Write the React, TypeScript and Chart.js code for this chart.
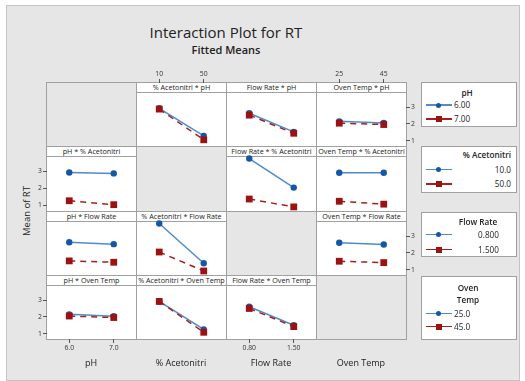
import React, { useEffect, useRef } from 'react';
import { Chart, registerables } from 'chart.js';

Chart.register(...registerables);

// ---------------- data ----------------
const factorNames = ['pH', '% Acetonitri', 'Flow Rate', 'Oven Temp'];
const pHLevels = [6.0, 7.0];
const acetoLevels = [10, 50];
const flowLevels = [0.8, 1.5];
const ovenLevels = [25, 45];
const pHTickLabels = ['6.0', '7.0'];
const acetoTickLabels = ['10', '50'];
const flowTickLabels = ['0.80', '1.50'];
const ovenTickLabels = ['25', '45'];
const pHLegendLabels = ['6.00', '7.00'];
const acetoLegendLabels = ['10.0', '50.0'];
const flowLegendLabels = ['0.800', '1.500'];
const ovenLegendLabels = ['25.0', '45.0'];
const yTickValues = [1, 2, 3];
const yTickLabels = ['1', '2', '3'];

// fitted means for each pair of factors: [level of first][level of second]
const meansPhAceto = [[2.93, 1.28], [2.88, 1.05]];
const meansPhFlow = [[2.63, 1.52], [2.52, 1.44]];
const meansPhOven = [[2.15, 2.05], [2.04, 1.96]];
const meansAcetoFlow = [[3.75, 2.05], [1.38, 0.92]];
const meansAcetoOven = [[2.92, 2.92], [1.25, 1.08]];
const meansFlowOven = [[2.6, 2.5], [1.5, 1.42]];

const factorLevels = [pHLevels, acetoLevels, flowLevels, ovenLevels];
const factorTickLabels = [pHTickLabels, acetoTickLabels, flowTickLabels, ovenTickLabels];
const factorLegendLabels = [pHLegendLabels, acetoLegendLabels, flowLegendLabels, ovenLegendLabels];
const pairTables: Record<string, number[][]> = {
  '01': meansPhAceto,
  '02': meansPhFlow,
  '03': meansPhOven,
  '12': meansAcetoFlow,
  '13': meansAcetoOven,
  '23': meansFlowOven,
};
function fittedMean(i: number, li: number, j: number, lj: number): number {
  return i < j ? pairTables[`${i}${j}`][li][lj] : pairTables[`${j}${i}`][lj][li];
}

// ---------------- style / layout ----------------
const FONT = '"Open Sans", "Noto Sans", sans-serif';
const BG = '#e6e6e6';
const GRID_LINE = '#a0a0a0';
const BLUE_LINE = '#4f8bcc';
const BLUE_MARK = '#1358a8';
const RED_LINE = '#a3201f';
const RED_MARK = '#9c1212';
const COL_X = [46, 136, 226, 316, 406];
const ROW_Y = [82, 146, 211, 275, 339];
const HDR = 10;
const M = 24;
const Y_MIN = 0.68;
const Y_MAX = 3.9;

function Panel({ r, c }: { r: number; c: number }) {
  const ref = useRef<HTMLCanvasElement>(null);
  const x0 = COL_X[c] + 1;
  const x1 = COL_X[c + 1];
  const y0 = ROW_Y[r] + 1;
  const y1 = ROW_Y[r + 1];
  const w = x1 - x0;
  const h = y1 - y0;
  useEffect(() => {
    const levels = factorLevels[c];
    const tickLabels = factorTickLabels[c];
    const lo = levels[0];
    const hi = levels[1];
    const d = hi - lo;
    const dataH = ROW_Y[r + 1] - (ROW_Y[r] + HDR);
    const yMaxExt = Y_MAX + ((h - dataH) / dataH) * (Y_MAX - Y_MIN);
    const showLeft = c === 0 && r % 2 === 1;
    const showRight = c === 3 && r % 2 === 0;
    const showTop = r === 0 && c % 2 === 1;
    const showBottom = r === 3 && c % 2 === 0;
    const showX = showTop || showBottom;
    const showY = showLeft || showRight;
    const tickFont = { family: FONT, size: 6.8 };
    const datasets = [0, 1].map((k) => ({
      data: levels.map((xv, lj) => ({ x: xv, y: fittedMean(r, k, c, lj) })),
      borderColor: k === 0 ? BLUE_LINE : RED_LINE,
      borderWidth: 1.5,
      borderDash: k === 0 ? [] : [6, 5],
      pointStyle: k === 0 ? 'circle' : 'rect',
      pointRadius: k === 0 ? 3.2 : 4.8,
      pointBackgroundColor: k === 0 ? BLUE_MARK : RED_MARK,
      pointBorderColor: k === 0 ? BLUE_MARK : RED_MARK,
      pointBorderWidth: 0,
      tension: 0,
      order: k === 0 ? 1 : 0,
    }));
    const chart = new Chart(ref.current as HTMLCanvasElement, {
      type: 'line',
      data: { datasets: datasets as any },
      options: {
        animation: false,
        responsive: false,
        maintainAspectRatio: false,
        devicePixelRatio: 1,
        events: [],
        layout: {
          padding: {
            left: showLeft ? 0 : M,
            right: showRight ? 0 : M,
            top: showTop ? 0 : M,
            bottom: showBottom ? 0 : M,
          },
        },
        plugins: { legend: { display: false }, tooltip: { enabled: false }, title: { display: false } },
        scales: {
          x: {
            type: 'linear',
            position: showTop ? 'top' : 'bottom',
            display: showX,
            min: lo - 0.5 * d,
            max: hi + 0.5 * d,
            afterFit: (s: any) => {
              if (showX) s.height = M;
            },
            afterBuildTicks: (s: any) => {
              s.ticks = levels.map((v) => ({ value: v }));
            },
            ticks: {
              autoSkip: false,
              maxRotation: 0,
              padding: 1,
              font: tickFont,
              color: '#333',
              callback: (v: any) => {
                const i = levels.indexOf(Number(v));
                return i >= 0 ? tickLabels[i] : '';
              },
            },
            grid: { display: true, drawOnChartArea: false, drawTicks: true, tickLength: 4, color: '#555' },
            border: { display: false },
          },
          y: {
            type: 'linear',
            position: showRight ? 'right' : 'left',
            display: showY,
            min: Y_MIN,
            max: yMaxExt,
            afterFit: (s: any) => {
              if (showY) s.width = M;
            },
            afterBuildTicks: (s: any) => {
              s.ticks = yTickValues.map((v) => ({ value: v }));
            },
            ticks: {
              autoSkip: false,
              padding: 1,
              font: tickFont,
              color: '#333',
              callback: (v: any) => {
                const i = yTickValues.indexOf(Number(v));
                return i >= 0 ? yTickLabels[i] : '';
              },
            },
            grid: { display: true, drawOnChartArea: false, drawTicks: true, tickLength: 4, color: '#555' },
            border: { display: false },
          },
        },
      } as any,
    });
    return () => chart.destroy();
  }, []);
  return (
    <canvas
      ref={ref}
      width={w + 2 * M}
      height={h + 2 * M}
      style={{ position: 'absolute', left: x0 - M, top: y0 - M, width: w + 2 * M, height: h + 2 * M }}
    />
  );
}

function Cell({ r, c }: { r: number; c: number }) {
  const diag = r === c;
  return (
    <div
      style={{
        position: 'absolute',
        left: COL_X[c],
        top: ROW_Y[r],
        width: COL_X[c + 1] - COL_X[c] + 1,
        height: ROW_Y[r + 1] - ROW_Y[r] + 1,
        boxSizing: 'border-box',
        border: `1px solid ${GRID_LINE}`,
        background: diag ? BG : '#fff',
      }}
    >
      {!diag && (
        <div
          style={{
            position: 'absolute',
            left: 0,
            top: 0,
            right: 0,
            height: HDR - 1,
            borderBottom: `1px solid ${GRID_LINE}`,
            fontFamily: FONT,
            fontSize: 7.2,
            lineHeight: `${HDR - 1}px`,
            textAlign: 'center',
            color: '#222',
            whiteSpace: 'nowrap',
            overflow: 'hidden',
          }}
        >
          {`${factorNames[c]} * ${factorNames[r]}`}
        </div>
      )}
    </div>
  );
}

type LegendSpec = {
  top: number;
  height: number;
  title: string[];
  titleAlign: 'left' | 'center' | 'right';
  titleX: number;
  titleY: number;
  labelAlign: 'left' | 'right';
  labelX: number;
  rowY: number[];
};

const legendSpecs: LegendSpec[] = [
  { top: 82, height: 45, title: ['pH'], titleAlign: 'center', titleX: 45, titleY: 10, labelAlign: 'left', labelX: 32, rowY: [22, 36] },
  { top: 146, height: 47, title: ['% Acetonitri'], titleAlign: 'right', titleX: 89, titleY: 8, labelAlign: 'right', labelX: 89, rowY: [22.5, 37] },
  { top: 212, height: 45, title: ['Flow Rate'], titleAlign: 'center', titleX: 56, titleY: 9, labelAlign: 'right', labelX: 77, rowY: [21.5, 36.5] },
  { top: 276, height: 64, title: ['Oven', 'Temp'], titleAlign: 'center', titleX: 46, titleY: 10.5, labelAlign: 'left', labelX: 32, rowY: [36.5, 49.5] },
];

function TextAt({ x, y, align, children, size, weight }: any) {
  const tx = align === 'center' ? '-50%' : align === 'right' ? '-100%' : '0';
  return (
    <div
      style={{
        position: 'absolute',
        left: x,
        top: y,
        transform: `translate(${tx}, -50%)`,
        fontFamily: FONT,
        fontSize: size,
        fontWeight: weight || 400,
        color: '#222',
        whiteSpace: 'nowrap',
        lineHeight: 1,
      }}
    >
      {children}
    </div>
  );
}

function LegendBox({ f }: { f: number }) {
  const s = legendSpecs[f];
  const labels = factorLegendLabels[f];
  return (
    <div
      style={{
        position: 'absolute',
        left: 421,
        top: s.top,
        width: 96,
        height: s.height,
        boxSizing: 'border-box',
        border: `1px solid ${GRID_LINE}`,
        background: '#fff',
      }}
    >
      {s.title.map((t, i) => (
        <TextAt key={t} x={s.titleX} y={s.titleY + i * 12.5} align={s.titleAlign} size={8.2} weight={600}>
          {t}
        </TextAt>
      ))}
      {[0, 1].map((k) => (
        <React.Fragment key={k}>
          <div
            style={{
              position: 'absolute',
              left: 4,
              top: s.rowY[k] - 0.75,
              width: 26,
              height: 1.5,
              background: k === 0 ? BLUE_LINE : RED_LINE,
            }}
          />
          <div
            style={{
              position: 'absolute',
              left: k === 0 ? 14 : 13.5,
              top: s.rowY[k] - (k === 0 ? 2.5 : 3),
              width: k === 0 ? 5 : 6,
              height: k === 0 ? 5 : 6,
              borderRadius: k === 0 ? '50%' : 0,
              background: k === 0 ? BLUE_MARK : RED_MARK,
            }}
          />
          <TextAt x={s.labelX} y={s.rowY[k]} align={s.labelAlign} size={8.2}>
            {labels[k]}
          </TextAt>
        </React.Fragment>
      ))}
    </div>
  );
}

export default function App() {
  const cells: { r: number; c: number }[] = [];
  for (let r = 0; r < 4; r++) for (let c = 0; c < 4; c++) cells.push({ r, c });
  return (
    <div style={{ position: 'absolute', left: 0, top: 0, width: 525, height: 381, background: '#fff', overflow: 'hidden' }}>
      <div
        style={{
          position: 'absolute',
          left: 6,
          top: 5,
          width: 514,
          height: 376,
          boxSizing: 'border-box',
          border: '1px solid #c4c4c4',
          background: BG,
        }}
      />
      <TextAt x={226} y={32} align="center" size={15} weight={500}>
        Interaction Plot for RT
      </TextAt>
      <TextAt x={226} y={49} align="center" size={11} weight={600}>
        Fitted Means
      </TextAt>
      <div
        style={{
          position: 'absolute',
          left: 27,
          top: 211,
          transform: 'translate(-50%, -50%) rotate(-90deg)',
          fontFamily: FONT,
          fontSize: 9.5,
          color: '#222',
          whiteSpace: 'nowrap',
          lineHeight: 1,
        }}
      >
        Mean of RT
      </div>
      {cells.map(({ r, c }) => (
        <Cell key={`cell${r}${c}`} r={r} c={c} />
      ))}
      {cells
        .filter(({ r, c }) => r !== c)
        .map(({ r, c }) => (
          <Panel key={`p${r}${c}`} r={r} c={c} />
        ))}
      {factorNames.map((n, c) => (
        <TextAt key={n} x={(COL_X[c] + COL_X[c + 1]) / 2} y={362} align="center" size={9}>
          {n}
        </TextAt>
      ))}
      {[0, 1, 2, 3].map((f) => (
        <LegendBox key={f} f={f} />
      ))}
    </div>
  );
}
